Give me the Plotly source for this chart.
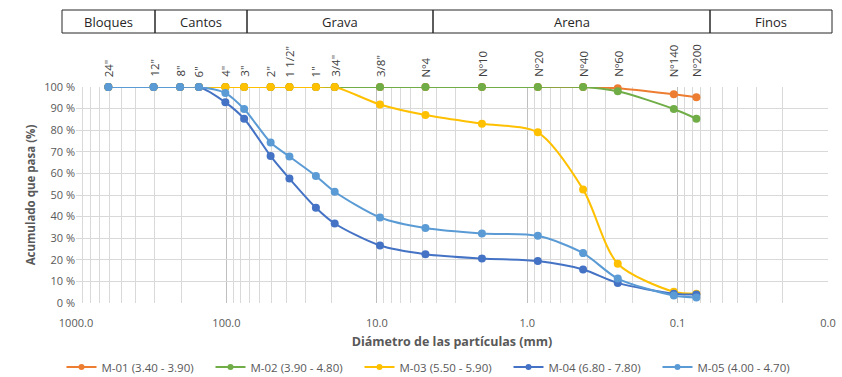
import math
import plotly.graph_objects as go

# Sieve openings (mm) and their names
sieve_mm = [609.6, 304.8, 203.2, 152.4, 101.6, 76.2, 50.8, 38.1, 25.4, 19.05,
            9.525, 4.75, 2.0, 0.85, 0.425, 0.25, 0.106, 0.075]
sieve_names = ['24"', '12"', '8"', '6"', '4"', '3"', '2"', '1 1/2"', '1"', '3/4"',
               '3/8"', 'Nº4', 'Nº10', 'Nº20', 'Nº40', 'Nº60', 'Nº140', 'Nº200']

# Cumulative percent passing for each sample
m01 = [100, 100, 100, 100, 100, 100, 100, 100, 100, 100,
       100, 100, 100, 100, 100, 99.4, 96.6, 95.3]
m02 = [100, 100, 100, 100, 100, 100, 100, 100, 100, 100,
       100, 100, 100, 100, 100, 98.0, 89.8, 85.3]
m03 = [100, 100, 100, 100, 100, 100, 100, 100, 100, 100,
       91.9, 87.0, 83.0, 79.0, 52.6, 18.2, 5.2, 4.3]
m04 = [100, 100, 100, 100, 92.9, 85.3, 68.0, 57.6, 44.1, 36.8,
       26.6, 22.6, 20.6, 19.4, 15.5, 9.3, 4.3, 3.9]
m05 = [100, 100, 100, 100, 97.2, 89.8, 74.3, 67.8, 58.8, 51.5,
       39.6, 34.7, 32.2, 31.1, 23.1, 11.3, 3.5, 2.6]

series_names = ["M-01 (3.40 - 3.90)", "M-02 (3.90 - 4.80)", "M-03 (5.50 - 5.90)",
                "M-04 (6.80 - 7.80)", "M-05 (4.00 - 4.70)"]
series_values = [m01, m02, m03, m04, m05]
series_colors = ["#ED7D31", "#70AD47", "#FFC000", "#4472C4", "#5B9BD5"]

# Size classes shown in the header band (label, left px, right px)
classes = ["Bloques", "Cantos", "Grava", "Arena", "Finos"]
class_edges = [62, 155, 247, 433, 710, 832]

# Decade ticks and labels
x_ticks = [1000, 100, 10, 1, 0.1, 0.01]
x_ticktext = ["1000.0", "100.0", "10.0", "1.0", "0.1", "0.0"]
minor_ticks = [m * 10 ** e for e in range(-2, 3) for m in range(2, 10)]

W, H = 842, 377
L, R, T, B = 76, 14, 87, 74
FONT = "Open Sans"
GREY = "#595959"
plot_w = W - L - R
plot_h = H - T - B

fig = go.Figure()
for name, vals, col in zip(series_names, series_values, series_colors):
    fig.add_trace(go.Scatter(
        x=sieve_mm, y=vals, name=name, mode="lines+markers",
        line=dict(color=col, width=2, shape="spline", smoothing=0.8),
        marker=dict(color=col, size=8),
        cliponaxis=False, showlegend=False, legendgroup=name,
    ))
# Legend entries with a smaller marker glyph
for name, col in zip(series_names, series_colors):
    fig.add_trace(go.Scatter(
        x=[None], y=[None], name=name, mode="lines+markers",
        line=dict(color=col, width=2), marker=dict(color=col, size=6),
        legendgroup=name, showlegend=True,
    ))

fig.update_xaxes(
    type="log", range=[3, -2], automargin=False,
    tickmode="array", tickvals=x_ticks, ticktext=x_ticktext,
    showgrid=True, gridcolor="#BFBFBF", gridwidth=1,
    minor=dict(tickmode="array", tickvals=minor_ticks, showgrid=True,
               gridcolor="#D9D9D9", gridwidth=1),
    zeroline=False, ticks="", ticklen=0, ticklabelstandoff=12,
    tickfont=dict(family=FONT, size=11, color=GREY),
    title=dict(text="<b>Diámetro de las partículas (mm)</b>",
               font=dict(family=FONT, size=12.5, color=GREY), standoff=8),
)
fig.update_yaxes(
    range=[0, 100], dtick=10, ticksuffix=" %", automargin=False,
    showgrid=True, gridcolor="#D9D9D9", gridwidth=1,
    zeroline=False,
    tickfont=dict(family=FONT, size=11, color=GREY),
    title=dict(text="<b>Acumulado que pasa (%)</b>",
               font=dict(family=FONT, size=11.5, color=GREY), standoff=6),
)

# Sieve names above the plot, rotated
for d, lab in zip(sieve_mm, sieve_names):
    fig.add_annotation(
        x=math.log10(d), y=1 + 8 / plot_h, xref="x", yref="paper",
        text=lab, textangle=-90, showarrow=False, yanchor="bottom",
        font=dict(family=FONT, size=11.5, color="#404040"),
    )

# Header band with size classes
top_px, bot_px = 10, 33
for i, cls in enumerate(classes):
    x0, x1 = class_edges[i], class_edges[i + 1]
    fig.add_shape(type="rect", xref="paper", yref="paper",
                  x0=(x0 - L) / plot_w, x1=(x1 - L) / plot_w,
                  y0=1 + (T - bot_px) / plot_h, y1=1 + (T - top_px) / plot_h,
                  line=dict(color="#262626", width=1))
    fig.add_annotation(x=((x0 + x1) / 2 - L) / plot_w,
                       y=1 + (T - (top_px + bot_px) / 2) / plot_h,
                       xref="paper", yref="paper", text=cls, showarrow=False,
                       xanchor="center", yanchor="middle",
                       font=dict(family=FONT, size=13, color="#262626"))

fig.update_layout(
    width=W, height=H,
    margin=dict(l=L, r=R, t=T, b=B),
    paper_bgcolor="white", plot_bgcolor="white",
    font=dict(family=FONT, color=GREY),
    showlegend=True,
    legend=dict(orientation="h", x=(434 - L) / plot_w, xanchor="center",
                yref="container", y=1 - 367 / H, yanchor="middle",
                entrywidth=104, entrywidthmode="pixels", itemwidth=30,
                font=dict(family=FONT, size=11.5, color=GREY)),
)

fig.write_html("out.html")
